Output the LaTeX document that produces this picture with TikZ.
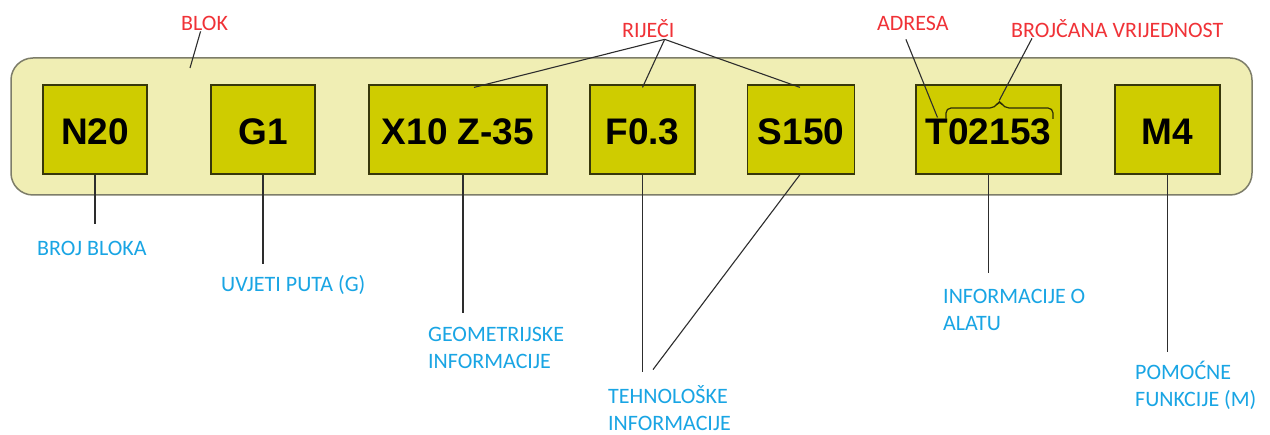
\documentclass[tikz,border=0pt]{standalone}
\usepackage{fontspec}
\setmainfont{Carlito}
\newfontfamily\boxfont{Liberation Sans}
\definecolor{outerfill}{RGB}{240,238,180}
\definecolor{outerdraw}{RGB}{125,125,105}
\definecolor{boxfill}{RGB}{207,204,0}
\definecolor{boxdraw}{RGB}{55,55,10}
\definecolor{lblred}{RGB}{240,50,55}
\definecolor{lblblue}{RGB}{25,165,228}
\definecolor{linec}{RGB}{45,45,45}
\begin{document}
\begin{tikzpicture}[x=1pt,y=-1pt,
  outerbox/.style={draw=outerdraw,fill=outerfill,line width=1.5pt,rounded corners=22pt},
  codebox/.style={draw=boxdraw,fill=boxfill,line width=1.2pt,minimum height=89pt,inner sep=0pt,
     font=\boxfont\bfseries\fontsize{37}{40}\selectfont,text height=31pt,text depth=0pt},
  redlbl/.style={text=lblred,inner sep=0pt,font=\fontsize{22}{27}\selectfont,anchor=base west},
  bluelbl/.style={text=lblblue,inner sep=0pt,font=\fontsize{22}{27}\selectfont,anchor=base west,align=left},
  conn/.style={draw=linec,line width=1.1pt},
  bracestyle/.style={draw=boxdraw!80!black,line width=1.2pt,rounded corners=5pt}]
\useasboundingbox (0,0) rectangle (1270,435);
\fill[white] (0,0) rectangle (1270,435);
% outer block
\draw[outerbox] (11,58) rectangle (1252,195);
\coordinate (blokend) at (190,68);
% code boxes
\node[codebox,minimum width=104pt] (n) at (95,129.5) {N20};
\node[codebox,minimum width=104pt] (g) at (263,129.5) {G1};
\node[codebox,minimum width=178pt] (xz) at (458,129.5) {X10 Z-35};
\node[codebox,minimum width=105pt] (f) at (642.5,129.5) {F0.3};
\node[codebox,minimum width=107pt] (s) at (801,129.5) {S150};
\node[codebox,minimum width=145pt] (t) at (988.5,129.5) {T02153};
\node[codebox,minimum width=105pt] (m) at (1167.5,129.5) {M4};
% red labels
\node[redlbl] (blok) at (181,31) {BLOK};
\node[redlbl] (rijeci) at (622,38) {RIJEČI};
\node[redlbl] (adresa) at (877,31) {ADRESA};
\node[redlbl] (broj) at (1011,38) {BROJČANA VRIJEDNOST};
% blue labels (base anchor = last line)
\node[bluelbl] (lb1) at (37,256) {BROJ BLOKA};
\node[bluelbl] (lb2) at (221,292) {UVJETI PUTA (G)};
\node[bluelbl] (lb3) at (428,369) {GEOMETRIJSKE\\INFORMACIJE};
\node[bluelbl] (lb4) at (608,431) {TEHNOLOŠKE\\INFORMACIJE};
\node[bluelbl] (lb5) at (943,331) {INFORMACIJE O\\ALATU};
\node[bluelbl] (lb6) at (1135,407) {POMOĆNE\\FUNKCIJE (M)};
% brace over digits
\coordinate (bracetip) at (999.5,100);
\draw[bracestyle] (946,119) -- (946,108) -- (995,108) -- (bracetip) -- (1004,108) -- (1053,108) -- (1053,119);
% connectors from red labels
\draw[conn] ([xshift=-4pt]blok.south) -- (blokend);
\draw[conn] ([xshift=-10pt,yshift=-1pt]rijeci.south east) -- ([xshift=16pt,yshift=-3pt]xz.north);
\draw[conn] ([xshift=-10pt,yshift=-1pt]rijeci.south east) -- ([yshift=-3pt]f.north);
\draw[conn] ([xshift=-10pt,yshift=-1pt]rijeci.south east) -- ([xshift=-1pt,yshift=-3pt]s.north);
\draw[conn] ([xshift=-7pt,yshift=-8pt]adresa.south) -- ([xshift=-51pt,yshift=12pt]t.center);
\draw[conn] ([xshift=21pt]broj.south west) -- (bracetip);
% connectors to blue labels
\draw[conn] (n.south) -- ++(0,49);
\draw[conn] (g.south) -- ++(0,89);
\draw[conn] ([xshift=5pt]xz.south) -- ++(0,138);
\draw[conn] (f.south) -- ++(0,197);
\draw[conn] ([xshift=-1pt]s.south) -- ++(-147,195);
\draw[conn] (t.south) -- ++(0,98);
\draw[conn] (m.south) -- ++(0,177);
\end{tikzpicture}
\end{document}
